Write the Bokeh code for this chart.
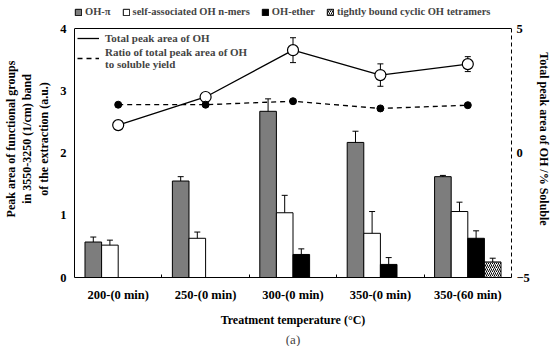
from bokeh.plotting import figure
from bokeh.models import (Range1d, LinearAxis, FixedTicker, ColumnDataSource, Whisker,
                          TeeHead, Legend, LegendItem, Title, Span)
from bokeh.embed import file_html
from bokeh.resources import INLINE

categories = ["200-(0 min)", "250-(0 min)", "300-(0 min)", "350-(0 min)", "350-(60 min)"]
oh_pi = [0.57, 1.55, 2.67, 2.17, 1.62]
oh_pi_err = [0.08, 0.07, 0.20, 0.18, 0.02]
self_assoc = [0.52, 0.63, 1.04, 0.71, 1.06]
self_assoc_err = [0.08, 0.10, 0.28, 0.35, 0.15]
oh_ether = [None, None, 0.37, 0.21, 0.63]
oh_ether_err = [None, None, 0.09, 0.11, 0.12]
tetramers = [None, None, None, None, 0.25]
tetramers_err = [None, None, None, None, 0.06]
total_oh = [1.12, 2.25, 4.13, 3.13, 3.57]
total_oh_err = [0.0, 0.0, 0.50, 0.45, 0.30]
ratio_oh = [1.94, 1.94, 2.08, 1.79, 1.92]
left_ticks = [0, 1, 2, 3, 4]
right_ticks = [-5, 0, 5]

FONT = "Liberation Serif"
BAR_W = 0.19
FH = 277

p = figure(frame_width=437, frame_height=FH, output_backend="svg", toolbar_location=None,
           x_range=Range1d(0.5, 5.5), y_range=Range1d(0, 4.45),
           min_border_left=0, min_border_right=30, min_border_top=0, min_border_bottom=0)
p.extra_y_ranges = {"right": Range1d(-5, 6.125)}
p.grid.visible = False
p.outline_line_color = None
p.background_fill_color = "white"

pos = list(range(1, len(categories) + 1))

xa = p.xaxis[0]
xa.ticker = FixedTicker(ticks=pos, minor_ticks=[i + 0.5 for i in pos[:-1]])
xa.major_label_overrides = {i: c for i, c in zip(pos, categories)}
xa.major_tick_line_color = None
xa.minor_tick_in = 3
xa.minor_tick_out = 0
xa.axis_label = "Treatment temperature (°C)"

ya = p.yaxis[0]
ya.ticker = FixedTicker(ticks=left_ticks)
ya.bounds = (left_ticks[0], left_ticks[-1])
ya.axis_label = "Peak area of functional groups\nin 3550-3250 (1/cm) band\nof the extraction (a.u.)"
ya.major_tick_in = 0
ya.major_tick_out = 0

ra = LinearAxis(y_range_name="right", ticker=FixedTicker(ticks=right_ticks),
                bounds=(right_ticks[0], right_ticks[-1]),
                axis_label="Total peak area of OH /% Soluble")
ra.axis_line_dash = "4 3"
ra.major_tick_in = 0
ra.major_tick_out = 0
p.add_layout(ra, "right")

for ax in [xa, ya, ra]:
    ax.major_label_text_font = FONT
    ax.major_label_text_font_style = "bold"
    ax.major_label_text_font_size = "12.5px"
    ax.major_label_text_color = "black"
    ax.axis_label_text_font = FONT
    ax.axis_label_text_font_style = "bold"
    ax.axis_label_text_font_size = "12px"
    ax.axis_label_text_color = "black"
    ax.axis_line_color = "black"
ra.minor_tick_line_color = None
ya.minor_tick_line_color = None
ya.axis_label_standoff = 6
ya.major_label_standoff = 8
ra.major_label_standoff = 5
ra.axis_label_standoff = 4
xa.major_label_standoff = 4
xa.axis_label_standoff = 8

p.add_layout(Span(location=left_ticks[-1], dimension="width", line_color="black", line_width=1))


def bar_series(vals, errs, offset, **style):
    xs, tops, lo, hi = [], [], [], []
    for i, v, e in zip(pos, vals, errs):
        if v is None:
            continue
        xs.append(i + offset)
        tops.append(v)
        lo.append(v - e)
        hi.append(v + e)
    src = ColumnDataSource(dict(x=xs, top=tops, lower=lo, upper=hi))
    r = p.vbar(x="x", top="top", width=BAR_W, source=src, line_color="black", line_width=1, **style)
    w = Whisker(base="x", upper="upper", lower="lower", source=src, line_color="black",
                upper_head=TeeHead(size=6, line_color="black"),
                lower_head=TeeHead(size=6, line_color="black"))
    p.add_layout(w)
    return r


r_pi = bar_series(oh_pi, oh_pi_err, -1.5 * BAR_W, fill_color="#7d7d7d")
r_sa = bar_series(self_assoc, self_assoc_err, -0.5 * BAR_W, fill_color="white")
r_et = bar_series(oh_ether, oh_ether_err, 0.5 * BAR_W, fill_color="black")
r_te = bar_series(tetramers, tetramers_err, 1.5 * BAR_W, fill_color="white",
                  hatch_pattern="/", hatch_color="black", hatch_scale=4, hatch_weight=1)

src_t = ColumnDataSource(dict(x=pos, y=total_oh,
                              lower=[v - e for v, e in zip(total_oh, total_oh_err)],
                              upper=[v + e for v, e in zip(total_oh, total_oh_err)]))
p.add_layout(Whisker(base="x", upper="upper", lower="lower", source=src_t, y_range_name="right",
                     line_color="black",
                     upper_head=TeeHead(size=6, line_color="black"),
                     lower_head=TeeHead(size=6, line_color="black")))
l_t = p.line("x", "y", source=src_t, y_range_name="right", line_color="black", line_width=1.3)
p.scatter("x", "y", source=src_t, y_range_name="right", size=11, fill_color="white",
          line_color="black", line_width=1.2)

src_r = ColumnDataSource(dict(x=pos, y=ratio_oh))
l_r = p.line("x", "y", source=src_r, y_range_name="right", line_color="black", line_width=1.3,
             line_dash="5 4")
p.scatter("x", "y", source=src_r, y_range_name="right", size=7, fill_color="black",
          line_color="black")

leg_in = Legend(items=[LegendItem(label="Total peak area of OH", renderers=[l_t]),
                       LegendItem(label="Ratio of total peak area of OH\nto soluble yield",
                                  renderers=[l_r])],
                location=(3, FH - 70), background_fill_alpha=0, border_line_color=None,
                label_text_font=FONT, label_text_font_style="bold", label_text_font_size="11px",
                glyph_width=22, glyph_height=12, label_height=12, spacing=2, padding=4, margin=0,
                label_standoff=6)
p.add_layout(leg_in)

leg_top = Legend(items=[LegendItem(label="OH-π", renderers=[r_pi]),
                        LegendItem(label="self-associated OH n-mers", renderers=[r_sa]),
                        LegendItem(label="OH-ether", renderers=[r_et]),
                        LegendItem(label="tightly bound cyclic OH tetramers", renderers=[r_te])],
                 orientation="horizontal", location=(0, FH - 17), background_fill_alpha=0,
                 border_line_color=None, label_text_font=FONT, label_text_font_style="bold",
                 label_text_font_size="10.5px", glyph_width=8, glyph_height=8, label_height=11,
                 label_standoff=3, spacing=11, padding=0, margin=0)
p.add_layout(leg_top)

p.add_layout(Title(text="(a)", align="center", text_font=FONT, text_font_style="normal",
                   text_font_size="13px", standoff=0, offset=0), "below")

open("out.html", "w").write(file_html(p, INLINE))
